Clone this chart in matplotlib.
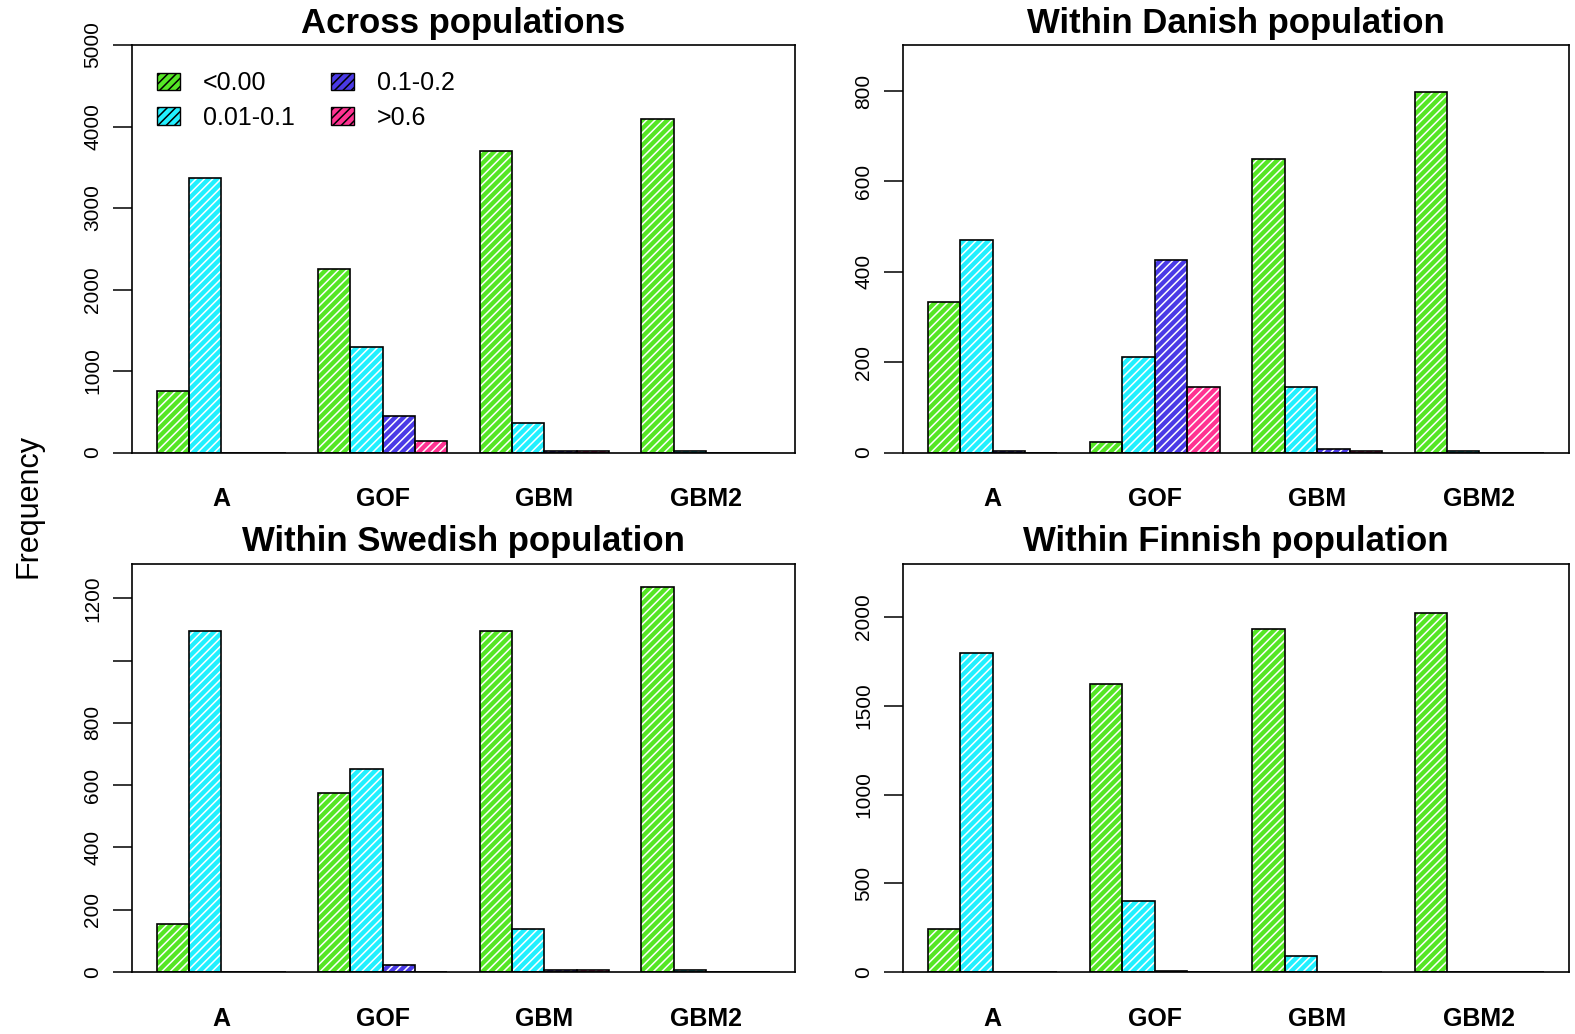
import matplotlib
matplotlib.use("Agg")
import matplotlib.pyplot as plt
from matplotlib.patches import Patch
import numpy as np

plt.rcParams['font.family'] = ['Liberation Sans', 'DejaVu Sans']
plt.rcParams['hatch.linewidth'] = 1.1

# ---------------- data ----------------
categories = ['A', 'GOF', 'GBM', 'GBM2']
series_labels = ['<0.00', '0.01-0.1', '0.1-0.2', '>0.6']
series_colors = ['#55E625', '#22F0FF', '#4A3AE6', '#FF3392']

# values per series (order: <0.00, 0.01-0.1, 0.1-0.2, >0.6), per category A, GOF, GBM, GBM2
across_vals = [[750, 2255, 3700, 4090],
               [3370, 1300, 364, 15],
               [0, 453, 15, 0],
               [0, 143, 15, 0]]
danish_vals = [[333, 24, 650, 797],
               [471, 212, 146, 3],
               [3, 426, 8, 0],
               [0, 146, 3, 0]]
swedish_vals = [[154, 575, 1095, 1236],
                [1095, 652, 137, 5],
                [0, 22, 5, 0],
                [0, 0, 5, 0]]
finnish_vals = [[240, 1622, 1932, 2023],
                [1795, 400, 90, 0],
                [0, 8, 0, 0],
                [0, 0, 0, 0]]

titles = ['Across populations', 'Within Danish population',
          'Within Swedish population', 'Within Finnish population']
ylims = [5000, 902, 1310, 2299]
yticks_list = [[0, 1000, 2000, 3000, 4000, 5000],
               [0, 200, 400, 600, 800],
               [0, 200, 400, 600, 800, 1000, 1200],
               [0, 500, 1000, 1500, 2000]]
ytick_labels_list = [['0', '1000', '2000', '3000', '4000', '5000'],
                     ['0', '200', '400', '600', '800'],
                     ['0', '200', '400', '600', '800', '', '1200'],
                     ['0', '500', '1000', '1500', '2000']]

# ---------------- layout ----------------
W, H = 1575, 1034
fig = plt.figure(figsize=(W / 100, H / 100), dpi=100)

def rect(x0, x1, ytop, ybot):
    return [x0 / W, 1 - ybot / H, (x1 - x0) / W, (ybot - ytop) / H]

rects = [rect(132, 795, 45, 452.5), rect(903, 1569, 45, 452.5),
         rect(132, 795, 564, 972), rect(903, 1569, 564, 972)]
all_vals = [across_vals, danish_vals, swedish_vals, finnish_vals]

n_ser = len(series_labels)
group_left = np.arange(len(categories)) * (n_ser + 1) + 1.0
group_center = group_left + n_ser / 2.0

for k in range(4):
    ax = fig.add_axes(rects[k])
    vals = all_vals[k]
    for j in range(n_ser):
        left = group_left + j
        ax.bar(left, vals[j], width=1, align='edge', color=series_colors[j],
               edgecolor='white', linewidth=0, hatch='////', zorder=2)
        ax.bar(left, vals[j], width=1, align='edge', fill=False,
               edgecolor='black', linewidth=1.2, zorder=3)
    ax.set_xlim(0.24, 20.76)
    ax.set_ylim(0, ylims[k])
    ax.set_yticks(yticks_list[k])
    ax.set_yticklabels(ytick_labels_list[k], rotation=90, va='center')
    ax.tick_params(axis='y', length=13.5, width=1.1, pad=8, labelsize=15)
    ax.set_xticks(group_center)
    ax.set_xticklabels(categories, fontweight='bold')
    ax.tick_params(axis='x', length=0, pad=25, labelsize=18)
    for s in ax.spines.values():
        s.set_linewidth(1.2)
        s.set_zorder(4)
    ax.set_title(titles[k], fontsize=25, fontweight='bold', pad=9)
    if k == 0:
        handles = [Patch(facecolor=series_colors[j], edgecolor='black',
                         hatch='////', linewidth=1.0, label=series_labels[j])
                   for j in range(n_ser)]
        ax.legend(handles=handles, ncol=2, loc='upper left',
                  bbox_to_anchor=(0.037, 0.935), frameon=False,
                  fontsize=18, handlelength=0.92, handleheight=0.7,
                  handletextpad=0.92, columnspacing=1.45, labelspacing=0.42,
                  borderpad=0, borderaxespad=0)

fig.text(28 / W, 1 - 506 / H, 'Frequency', rotation=90, ha='center',
         va='center', fontsize=22)

fig.savefig('out.png', dpi=100)
